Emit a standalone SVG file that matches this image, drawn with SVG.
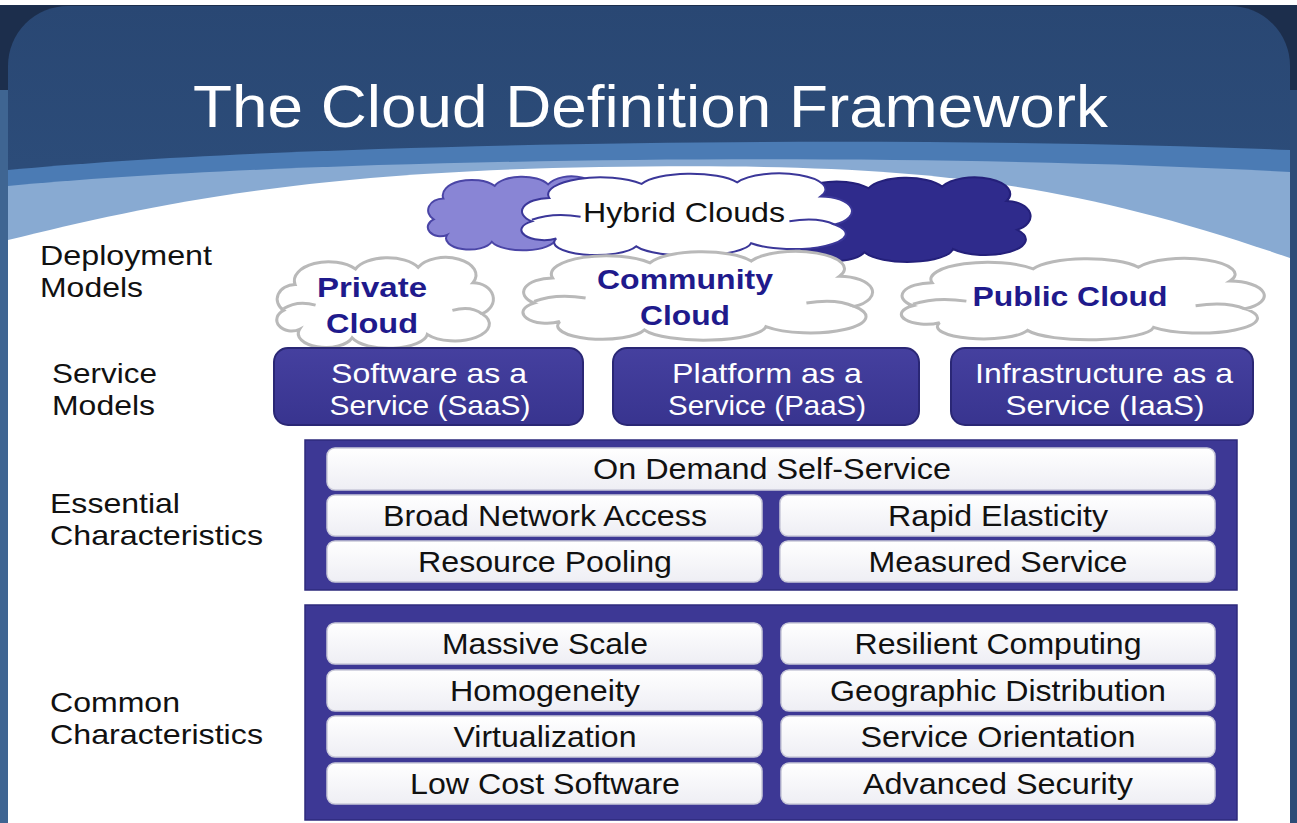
<svg xmlns="http://www.w3.org/2000/svg" xmlns:xlink="http://www.w3.org/1999/xlink" width="1297" height="823" viewBox="0 0 1297 823">
<style>
text { font-family: "Liberation Sans", Arial, sans-serif; }
.title { font-size: 60px; fill: #ffffff; }
.lbl { font-size: 28px; fill: #111111; }
.dep { font-size: 28px; font-weight: bold; fill: #1f1a8c; text-anchor: middle; }
.hyb { font-size: 28px; fill: #111111; text-anchor: middle; }
.svc { font-size: 28px; fill: #ffffff; text-anchor: middle; }
.itm { font-size: 29px; fill: #111111; text-anchor: middle; }
.svcbox { fill: url(#indigo); stroke: #2a2775; stroke-width: 2; }
.panel { fill: #3d3895; stroke: #2e2a7c; stroke-width: 1.5; }
.cell { fill: url(#cellg); stroke: #c9c9d9; stroke-width: 1.5; }
.depcloud { fill: #ffffff; stroke: #b9b9b9; stroke-width: 3; }
.curl { fill: none; stroke: #b9b9b9; stroke-width: 3; }
</style>
<defs>
<linearGradient id="sky" x1="0" y1="0" x2="0" y2="1">
<stop offset="0" stop-color="#294773"/>
<stop offset="1" stop-color="#3a6395"/>
</linearGradient>
<linearGradient id="indigo" x1="0" y1="0" x2="0" y2="1">
<stop offset="0" stop-color="#45409f"/>
<stop offset="1" stop-color="#38348f"/>
</linearGradient>
<linearGradient id="cellg" x1="0" y1="0" x2="0" y2="1">
<stop offset="0" stop-color="#ffffff"/>
<stop offset="1" stop-color="#eeeef4"/>
</linearGradient>
<path id="cloud" vector-effect="non-scaling-stroke" d="M12,62 A16,17 0 0 1 22,32 A30,22 0 0 1 75,14 A30,20 0 0 1 130,12 A26,20 0 0 1 178,30 A18,19 0 0 1 186,66 A28,18 0 0 1 138,90 A34,18 0 0 1 72,94 A24,16 0 0 1 26,84 A12,12 0 0 1 12,62 Z"/>
<path id="curls" vector-effect="non-scaling-stroke" d="M12,60 Q24,50 40,56 M186,66 Q176,56 160,62"/>
</defs>

<g id="background">
<rect x="0" y="0" width="1297" height="823" fill="#ffffff"/>
<rect x="0" y="5" width="1297" height="818" fill="#1c2e4c"/>
<rect x="0" y="90" width="8" height="733" fill="#3f6592"/>
<rect x="1290" y="90" width="7" height="733" fill="#2d4c77"/>
<rect x="8" y="6" width="1282" height="900" rx="60" fill="url(#sky)"/>
<path d="M8,170 C300,142 900,134 1290,150 L1290,823 L8,823 Z" fill="#4b7bb4"/>
<path d="M8,186 C300,158 900,150 1290,172 L1290,823 L8,823 Z" fill="#88aad2"/>
<path d="M8,240 C150,205 300,172 600,167 C900,163 1050,175 1290,258 L1290,823 L8,823 Z" fill="#ffffff"/>
</g>

<g id="title">
<text class="title" x="193" y="127" textLength="915" lengthAdjust="spacingAndGlyphs">The Cloud Definition Framework</text>
</g>

<g id="labels">
<text class="lbl" x="40" y="265" textLength="172" lengthAdjust="spacingAndGlyphs">Deployment</text>
<text class="lbl" x="40" y="297" textLength="103" lengthAdjust="spacingAndGlyphs">Models</text>
<text class="lbl" x="52" y="383" textLength="105" lengthAdjust="spacingAndGlyphs">Service</text>
<text class="lbl" x="52" y="415" textLength="103" lengthAdjust="spacingAndGlyphs">Models</text>
<text class="lbl" x="50" y="513" textLength="130" lengthAdjust="spacingAndGlyphs">Essential</text>
<text class="lbl" x="50" y="545" textLength="213" lengthAdjust="spacingAndGlyphs">Characteristics</text>
<text class="lbl" x="50" y="712" textLength="130" lengthAdjust="spacingAndGlyphs">Common</text>
<text class="lbl" x="50" y="744" textLength="213" lengthAdjust="spacingAndGlyphs">Characteristics</text>
</g>

<g id="hybrid-clouds">
<use xlink:href="#cloud" transform="translate(422,176) scale(0.97,0.7)" fill="#8985d5" stroke="#4a45a6" stroke-width="2"/>
<use xlink:href="#cloud" transform="translate(768,177) scale(1.34,0.8)" fill="#2f2b8c" stroke="#24207a" stroke-width="2"/>
<use xlink:href="#cloud" transform="translate(511,173) scale(1.74,0.78)" fill="#ffffff" stroke="#3b3799" stroke-width="2"/>
<use xlink:href="#curls" transform="translate(511,173) scale(1.74,0.78)" fill="none" stroke="#3b3799" stroke-width="2"/>
<text class="hyb" x="684" y="222" textLength="202" lengthAdjust="spacingAndGlyphs">Hybrid Clouds</text>
</g>

<g id="private-cloud">
<use xlink:href="#cloud" class="depcloud" transform="translate(270,257) scale(1.14,0.86)"/>
<use xlink:href="#curls" class="curl" transform="translate(270,257) scale(1.14,0.86)"/>
<text class="dep" x="372" y="297" textLength="110" lengthAdjust="spacingAndGlyphs">Private</text>
<text class="dep" x="372" y="333" textLength="92" lengthAdjust="spacingAndGlyphs">Cloud</text>
</g>

<g id="community-cloud">
<use xlink:href="#cloud" class="depcloud" transform="translate(512,251) scale(1.84,0.84)"/>
<use xlink:href="#curls" class="curl" transform="translate(512,251) scale(1.84,0.84)"/>
<text class="dep" x="685" y="289" textLength="176" lengthAdjust="spacingAndGlyphs">Community</text>
<text class="dep" x="685" y="325" textLength="90" lengthAdjust="spacingAndGlyphs">Cloud</text>
</g>

<g id="public-cloud">
<use xlink:href="#cloud" class="depcloud" transform="translate(890,258) scale(1.91,0.77)"/>
<use xlink:href="#curls" class="curl" transform="translate(890,258) scale(1.91,0.77)"/>
<text class="dep" x="1070" y="306" textLength="195" lengthAdjust="spacingAndGlyphs">Public Cloud</text>
</g>

<g id="saas">
<rect class="svcbox" x="274" y="348" width="309" height="77" rx="14"/>
<text class="svc" x="429" y="383" textLength="196" lengthAdjust="spacingAndGlyphs">Software as a</text>
<text class="svc" x="430" y="415" textLength="201" lengthAdjust="spacingAndGlyphs">Service (SaaS)</text>
</g>
<g id="paas">
<rect class="svcbox" x="613" y="348" width="306" height="77" rx="14"/>
<text class="svc" x="767" y="383" textLength="190" lengthAdjust="spacingAndGlyphs">Platform as a</text>
<text class="svc" x="767" y="415" textLength="198" lengthAdjust="spacingAndGlyphs">Service (PaaS)</text>
</g>
<g id="iaas">
<rect class="svcbox" x="951" y="348" width="302" height="77" rx="14"/>
<text class="svc" x="1104" y="383" textLength="258" lengthAdjust="spacingAndGlyphs">Infrastructure as a</text>
<text class="svc" x="1105" y="415" textLength="199" lengthAdjust="spacingAndGlyphs">Service (IaaS)</text>
</g>

<g id="essential-characteristics">
<rect class="panel" x="305" y="440" width="932" height="150"/>
<rect class="cell" x="327" y="448" width="888" height="42" rx="8"/>
<text class="itm" x="772" y="479" textLength="358" lengthAdjust="spacingAndGlyphs">On Demand Self-Service</text>
<rect class="cell" x="327" y="495" width="435" height="41" rx="8"/>
<text class="itm" x="545" y="526" textLength="324" lengthAdjust="spacingAndGlyphs">Broad Network Access</text>
<rect class="cell" x="780" y="495" width="435" height="41" rx="8"/>
<text class="itm" x="998" y="526" textLength="220" lengthAdjust="spacingAndGlyphs">Rapid Elasticity</text>
<rect class="cell" x="327" y="541" width="435" height="41" rx="8"/>
<text class="itm" x="545" y="572" textLength="254" lengthAdjust="spacingAndGlyphs">Resource Pooling</text>
<rect class="cell" x="780" y="541" width="435" height="41" rx="8"/>
<text class="itm" x="998" y="572" textLength="259" lengthAdjust="spacingAndGlyphs">Measured Service</text>
</g>

<g id="common-characteristics">
<rect class="panel" x="305" y="605" width="932" height="215"/>
<rect class="cell" x="327" y="623" width="435" height="41" rx="8"/>
<text class="itm" x="545" y="654" textLength="206" lengthAdjust="spacingAndGlyphs">Massive Scale</text>
<rect class="cell" x="781" y="623" width="434" height="41" rx="8"/>
<text class="itm" x="998" y="654" textLength="287" lengthAdjust="spacingAndGlyphs">Resilient Computing</text>
<rect class="cell" x="327" y="670" width="435" height="41" rx="8"/>
<text class="itm" x="545" y="701" textLength="190" lengthAdjust="spacingAndGlyphs">Homogeneity</text>
<rect class="cell" x="781" y="670" width="434" height="41" rx="8"/>
<text class="itm" x="998" y="701" textLength="336" lengthAdjust="spacingAndGlyphs">Geographic Distribution</text>
<rect class="cell" x="327" y="716" width="435" height="41" rx="8"/>
<text class="itm" x="545" y="747" textLength="183" lengthAdjust="spacingAndGlyphs">Virtualization</text>
<rect class="cell" x="781" y="716" width="434" height="41" rx="8"/>
<text class="itm" x="998" y="747" textLength="275" lengthAdjust="spacingAndGlyphs">Service Orientation</text>
<rect class="cell" x="327" y="763" width="435" height="41" rx="8"/>
<text class="itm" x="545" y="794" textLength="270" lengthAdjust="spacingAndGlyphs">Low Cost Software</text>
<rect class="cell" x="781" y="763" width="434" height="41" rx="8"/>
<text class="itm" x="998" y="794" textLength="270" lengthAdjust="spacingAndGlyphs">Advanced Security</text>
</g>

<g id="connectors"></g>
</svg>
